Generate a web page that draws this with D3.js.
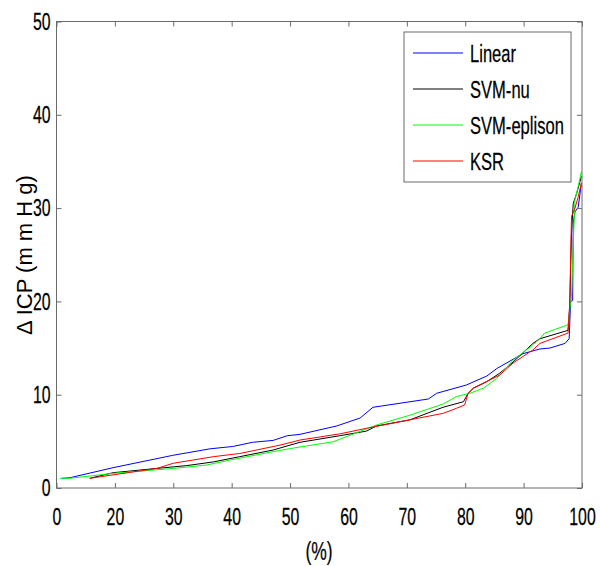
<!DOCTYPE html>
<html>
<head>
<meta charset="utf-8">
<script src="https://cdn.jsdelivr.net/npm/d3@7"></script>
<style>
  body { margin: 0; background: #fff; }
  text { font-family: "Liberation Sans", Arial, sans-serif; fill: #000; stroke: #000; stroke-width: 0.25px; }
</style>
</head>
<body>
<div id="chart"></div>
<script>
// series names + colours
const seriesNames = ["Linear", "SVM-nu", "SVM-eplison", "KSR"];
const seriesColors = ["#0000ff", "#000000", "#00ff00", "#ff0000"];

// x tick positions and the labels printed under them (first tick is labelled 0)
const xTickValues = [10, 20, 30, 40, 50, 60, 70, 80, 90, 100];
const xTickLabels = ["0", "20", "30", "40", "50", "60", "70", "80", "90", "100"];
const yTickValues = [0, 10, 20, 30, 40, 50];

// values, [x, y]
const linear = [[10.9,1.04],[12.3,1.1],[19.7,2.18],[29.9,3.5],[36.3,4.2],[40.2,4.45],[43.6,4.9],[47.1,5.1],
  [49.5,5.6],[51.7,5.75],[58,6.65],[62,7.5],[64.2,8.65],[73.7,9.54],[75.1,10.15],[80.2,11.04],[83.7,12.0],
  [85.4,12.8],[88.2,13.8],[89.9,14.4],[92.8,14.9],[94.5,15.0],[97.1,15.5],[97.8,16.0],[98.05,20.0],[98.4,20.1],
  [98.5,28.4],[98.8,29.6],[99.35,30.1],[99.9,32.7]];
const svmNu = [[15.7,1.04],[19.7,1.64],[27.2,2.1],[32.3,2.4],[36.9,2.8],[41.4,3.36],[47.1,4.07],[51.7,4.9],
  [58.5,5.6],[63.1,6.1],[64.8,6.65],[70.5,7.3],[76.2,8.65],[79.7,9.25],[80.5,10.15],[81.4,10.7],[83.7,11.4],
  [85.9,12.3],[88.2,13.5],[91.6,15.5],[92.8,16.0],[97.6,16.9],[97.9,19.4],[98.2,27.3],[98.5,30.5],[99.1,31.6],
  [99.9,33.4]];
const svmEps = [[10.6,1.04],[12.3,1.04],[19.7,1.57],[30,2.1],[35.7,2.46],[40.3,3.07],[47.1,3.9],[51.7,4.4],
  [52.8,4.5],[57.4,4.96],[64.8,6.75],[70.5,7.8],[76.2,9.0],[78.5,9.8],[80.8,10.15],[83.1,10.7],[85.4,11.75],
  [88.2,13.7],[91.1,15.1],[92.8,16.0],[93.6,16.6],[97.6,17.5],[97.9,19.1],[98.2,20.5],[98.5,26.2],[98.8,30.9],
  [99.35,32.3],[99.9,33.9]];
const ksr = [[15.7,1.04],[27.2,2.1],[30,2.65],[36.9,3.36],[41.4,3.7],[48.3,4.6],[51.7,5.14],[58.5,5.8],
  [63.1,6.4],[68.8,7.1],[76.2,8.0],[78.5,8.54],[79.9,8.9],[80.5,10.15],[81.4,10.7],[85.9,12.1],[88.2,13.4],
  [91.6,14.8],[92.8,15.5],[97.6,16.6],[97.9,19.8],[98.2,29.1],[98.8,30.0],[99.35,31.2],[99.9,32.7]];

const seriesData = [linear, svmNu, svmEps, ksr];

const W = 600, H = 566;
const margin = {top: 21.5, right: 18, bottom: 78, left: 56.5};
const width = W - margin.left - margin.right,
      height = H - margin.top - margin.bottom;
const frameColor = "#6a6a6a";
const squeezeX = 0.66; // reference font is tall and narrow

// squeeze text horizontally, keeping its anchor x where it was
function squeeze(sel, s) {
    sel.each(function () {
        const t = d3.select(this);
        const x0 = +t.attr("x") || 0;
        t.attr("x", x0 / s).attr("transform", `scale(${s},1)`);
    });
}

const svg = d3.select("#chart").append("svg")
    .attr("width", W)
    .attr("height", H);

const g = svg.append("g")
    .attr("transform", `translate(${margin.left},${margin.top})`);

const x = d3.scaleLinear().domain([10, 100]).range([0, width]);
const y = d3.scaleLinear().domain([0, 50]).range([height, 0]);

// curves
const line = d3.line().x(d => x(d[0])).y(d => y(d[1]));
g.selectAll(".curve")
    .data(seriesData)
    .join("path")
    .attr("class", "curve")
    .attr("d", line)
    .attr("fill", "none")
    .attr("stroke", (d, i) => seriesColors[i])
    .attr("stroke-width", 1);

// axes, ticks pointing inward (matlab style)
const fmt = d => xTickLabels[xTickValues.indexOf(d)];
function styleAxis(sel) {
    sel.select(".domain").remove();
    sel.selectAll(".tick line").attr("stroke", frameColor);
    sel.selectAll(".tick text").style("font-size", "24px").call(squeeze, squeezeX);
}
g.append("g")
    .attr("transform", `translate(0,${height})`)
    .call(d3.axisBottom(x).tickValues(xTickValues).tickFormat(fmt).tickSizeInner(-5).tickSizeOuter(0).tickPadding(20))
    .call(styleAxis);
g.append("g")
    .call(d3.axisTop(x).tickValues(xTickValues).tickFormat("").tickSizeInner(-5).tickSizeOuter(0))
    .call(styleAxis);
g.append("g")
    .call(d3.axisLeft(y).tickValues(yTickValues).tickSizeInner(-5).tickSizeOuter(0).tickPadding(6))
    .call(styleAxis);
g.append("g")
    .attr("transform", `translate(${width},0)`)
    .call(d3.axisRight(y).tickValues(yTickValues).tickFormat("").tickSizeInner(-5).tickSizeOuter(0))
    .call(styleAxis);

// frame
g.append("rect")
    .attr("width", width)
    .attr("height", height)
    .attr("fill", "none")
    .attr("stroke", frameColor);

// axis titles
svg.append("g")
    .attr("transform", `translate(319,560)`)
    .append("text")
    .attr("text-anchor", "middle")
    .style("font-size", "25px")
    .text("(%)")
    .call(squeeze, 0.7);
svg.append("g")
    .attr("transform", `translate(32,255) rotate(-90)`)
    .append("text")
    .attr("text-anchor", "middle")
    .style("font-size", "22px")
    .style("stroke-width", "0px")
    .text("\u0394 ICP (m m H g)");

// legend
const legend = svg.append("g").attr("transform", "translate(404,32)");
legend.append("rect")
    .attr("width", 167)
    .attr("height", 150)
    .attr("fill", "#fff")
    .attr("stroke", frameColor);
const item = legend.selectAll(".item")
    .data(seriesNames)
    .join("g")
    .attr("class", "item")
    .attr("transform", (d, i) => `translate(0,${21 + i * 36})`);
item.append("line")
    .attr("x1", 9).attr("x2", 59)
    .attr("stroke", (d, i) => seriesColors[i]);
item.append("text")
    .attr("x", 66)
    .attr("dy", "0.36em")
    .style("font-size", "24px")
    .text(d => d)
    .call(squeeze, 0.69);
</script>
</body>
</html>
